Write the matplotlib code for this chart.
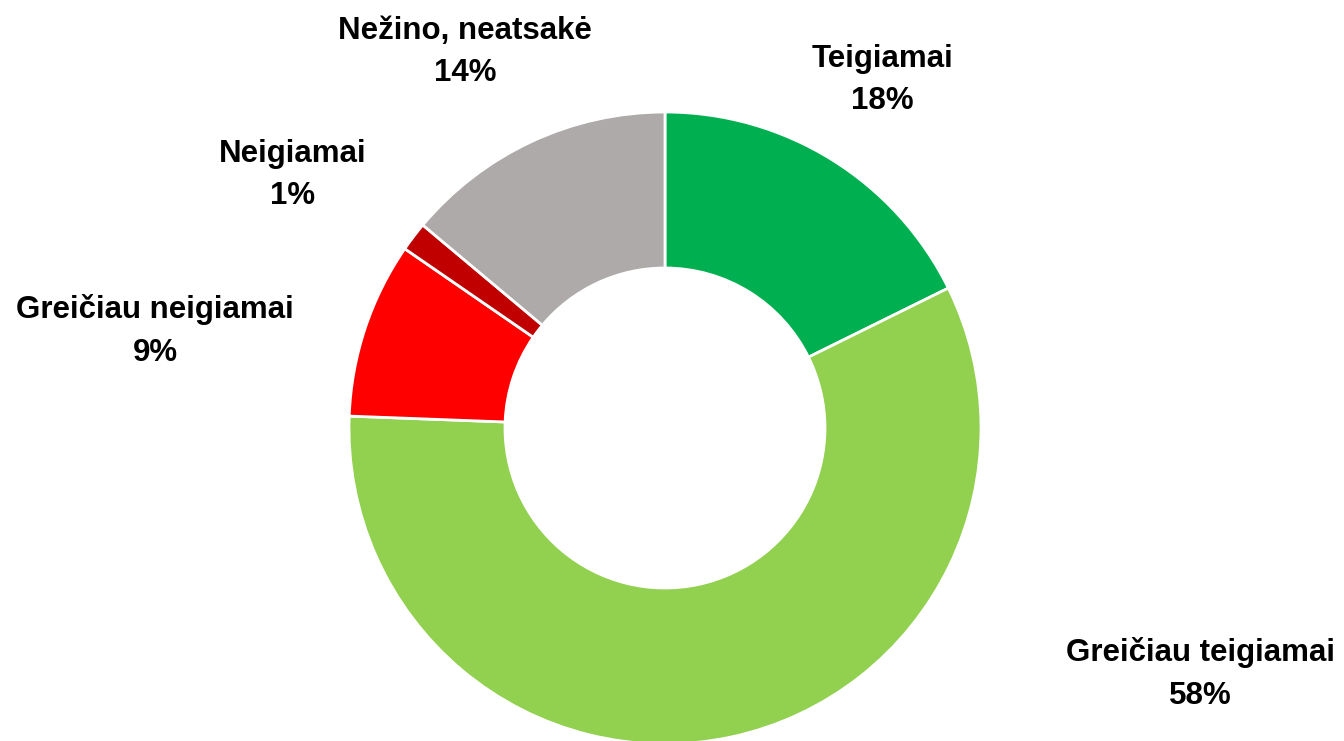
import matplotlib
matplotlib.use("Agg")
import matplotlib.pyplot as plt
from matplotlib import font_manager

categories = ["Teigiamai", "Greičiau teigiamai", "Greičiau neigiamai", "Neigiamai", "Nežino, neatsakė"]
values = [17.7, 57.9, 9.0, 1.5, 13.9]
colors = ["#00B050", "#92D050", "#FF0000", "#C00000", "#AEAAAA"]
pct_labels = ["18%", "58%", "9%", "1%", "14%"]

# label anchor positions (pixels from bottom-left)
label_pos = [(882, 661), (1200, 67), (155, 410), (293, 566), (465, 689)]

W, H = 1344, 741
fig = plt.figure(figsize=(W / 100, H / 100), dpi=100)
ax = fig.add_axes([0, 0, 1, 1])

R = 316
ax.pie(values, colors=colors, startangle=90, counterclock=False,
       radius=R, center=(665, H - 428),
       wedgeprops=dict(width=R - 160, edgecolor="white", linewidth=2),
       frame=True)
ax.set_xlim(0, W)
ax.set_ylim(0, H)
ax.axis("off")

names = {f.name for f in font_manager.fontManager.ttflist}
fam = ["Liberation Sans Narrow", "DejaVu Sans"] if "Liberation Sans Narrow" in names else ["Liberation Sans", "DejaVu Sans"]

for cat, pct, (x, y) in zip(categories, pct_labels, label_pos):
    ax.text(x, y, f"{cat}\n{pct}", ha="center", va="center", fontsize=22.5,
            fontweight="bold", family=fam, linespacing=1.55, color="black")

fig.savefig("out.png", dpi=100)
